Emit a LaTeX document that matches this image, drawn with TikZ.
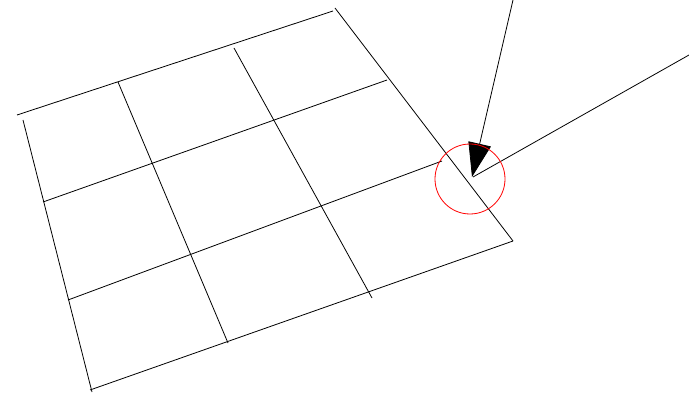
\documentclass[tikz,border=0pt]{standalone}
\usetikzlibrary{arrows.meta}
\begin{document}
\begin{tikzpicture}[x=1pt,y=-1pt,
  gridline/.style={line width=0.8pt,black},
  pointer/.style={line width=0.8pt,black},
  marker/.style={line width=0.8pt,red}]
\useasboundingbox (0,0) rectangle (689,393);
% grid end points
\coordinate (t1) at (17,115);  \coordinate (t2) at (333,11);
\coordinate (h2a) at (43,202); \coordinate (h2b) at (387,80);
\coordinate (h3a) at (68,300); \coordinate (h3b) at (442,161);
\coordinate (b1) at (90,390);  \coordinate (b2) at (513,241);
\coordinate (l1) at (23,120);  \coordinate (l2) at (92,392);
\coordinate (v2a) at (118,82); \coordinate (v2b) at (228,343);
\coordinate (v3a) at (234,48); \coordinate (v3b) at (372,298);
\coordinate (r1) at (335,8);   \coordinate (r2) at (513,241);
\draw[gridline] (t1) -- (t2);
\draw[gridline] (h2a) -- (h2b);
\draw[gridline] (h3a) -- (h3b);
\draw[gridline] (b1) -- (b2);
\draw[gridline] (l1) -- (l2);
\draw[gridline] (v2a) -- (v2b);
\draw[gridline] (v3a) -- (v3b);
\draw[gridline] (r1) -- (r2);
% pointers
\coordinate (p1) at (513,0);
\coordinate (p2) at (689,55);
\coordinate (tip) at (472,177);
\coordinate (tip2) at (473,177);
\draw[pointer,-{Triangle[length=34pt,width=23pt]}] (p1) -- (tip);
\draw[pointer] (p2) -- (tip2);
% marker circle
\coordinate (c) at (470,179);
\draw[marker] (c) circle[radius=35];
\end{tikzpicture}
\end{document}
